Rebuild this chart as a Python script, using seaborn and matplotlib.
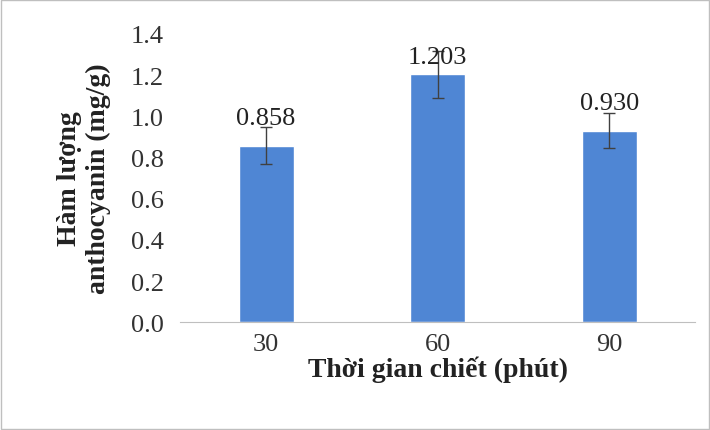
import matplotlib
matplotlib.use("Agg")
import matplotlib.pyplot as plt
import seaborn as sns
import pandas as pd

categories = ["30", "60", "90"]
values = [0.858, 1.203, 0.930]
errors = [0.09, 0.115, 0.085]
labels = ["0.858", "1.203", "0.930"]

sns.set_style("white")
plt.rcParams['font.family'] = ['Liberation Serif', 'DejaVu Serif']

df = pd.DataFrame({"t": categories, "v": values})
fig = plt.figure(figsize=(7.1, 4.31), dpi=100)
ax = fig.add_axes([0.254, 0.25, 0.725, 0.669])
sns.barplot(data=df, x="t", y="v", color="#4f86d4", width=0.32, ax=ax, saturation=1)
ax.errorbar(range(3), values, yerr=errors, fmt="none", ecolor="#404040", elinewidth=1, capsize=4)
for i, (v, e, l) in enumerate(zip(values, errors, labels)):
    ax.text(i, v + 0.08 if i != 1 else v + 0.03, l, ha="center", va="bottom", fontsize=19, color="#222")
ax.set_xlim(-0.5, 2.5)
ax.set_ylim(0, 1.4)
ax.set_yticks([0, 0.2, 0.4, 0.6, 0.8, 1.0, 1.2, 1.4])
ax.set_yticklabels([f"{t:.1f}" for t in ax.get_yticks()], fontsize=19, color="#333")
ax.tick_params(axis="x", labelsize=19, colors="#333", length=0, pad=8)
ax.tick_params(axis="y", length=0, pad=12)
for s in ["top", "right", "left"]:
    ax.spines[s].set_visible(False)
ax.spines["bottom"].set_color("#bfbfbf")
ax.set_xlabel("Thời gian chiết (phút)", fontsize=20, fontweight="bold", color="#222", labelpad=0)
ax.set_ylabel("Hàm lượng\nanthocyanin (mg/g)", fontsize=20, fontweight="bold", color="#222", labelpad=14)
fig.patches.append(plt.Rectangle((0.002, 0.002), 0.996, 0.996, transform=fig.transFigure,
                                 fill=False, edgecolor="#bfbfbf", lw=1))
fig.savefig("out.png", dpi=100)
